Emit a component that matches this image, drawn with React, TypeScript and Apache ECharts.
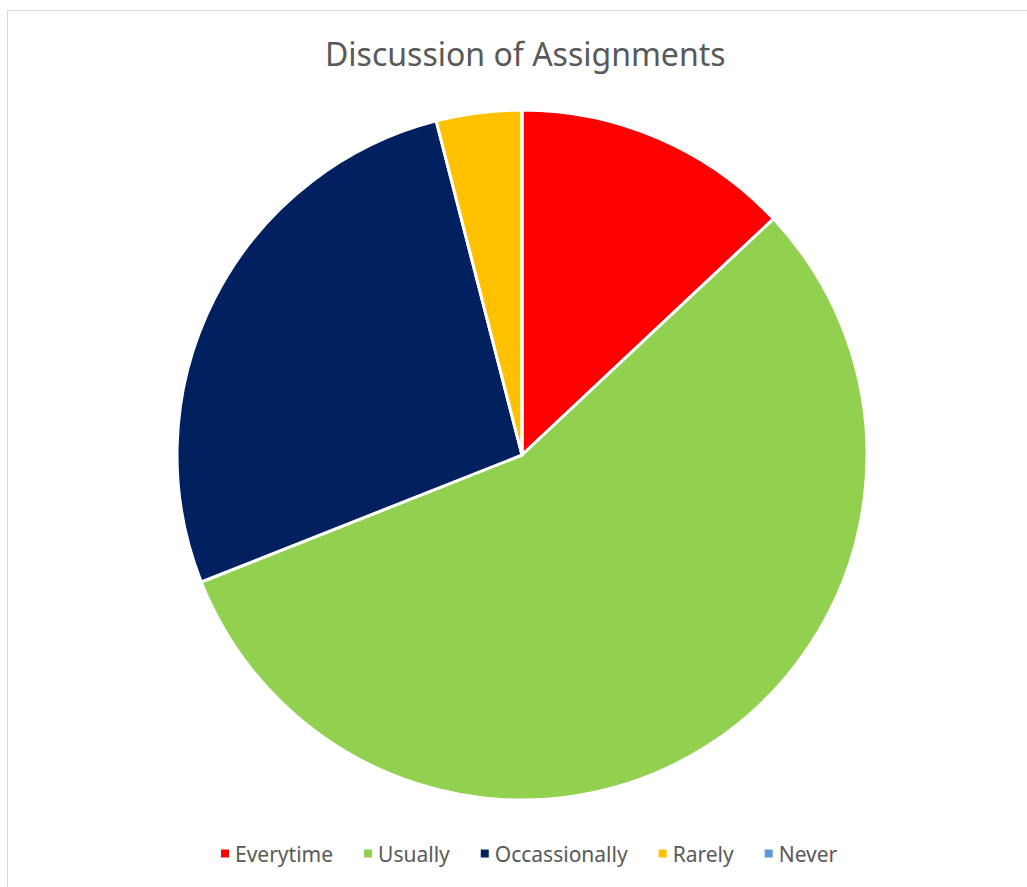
import React, { useEffect, useRef } from "react";
import * as echarts from "echarts";

const categories = ["Everytime", "Usually", "Occassionally", "Rarely", "Never"];
const values = [13, 56, 27, 4, 0];
const colors = ["#FF0000", "#92D050", "#002060", "#FFC000", "#5B9BD5"];
const titleText = "Discussion of Assignments";

export default function App() {
  const ref = useRef<HTMLDivElement>(null);
  useEffect(() => {
    if (!ref.current) return;
    const chart = echarts.init(ref.current, null, { renderer: "svg" });
    chart.setOption({
      animation: false,
      backgroundColor: "#ffffff",
      graphic: [
        {
          type: "rect",
          shape: { x: 7.5, y: 10.5, width: 1040, height: 900 },
          style: { fill: "none", stroke: "#d9d9d9", lineWidth: 1 },
          silent: true,
        },
      ],
      title: {
        text: titleText,
        left: 320,
        top: 32,
        textStyle: {
          fontFamily: "Noto Sans",
          fontSize: 32,
          fontWeight: "normal",
          color: "#595959",
        },
      },
      legend: {
        data: categories,
        left: 214,
        top: 838,
        icon: "rect",
        itemWidth: 10,
        itemHeight: 10,
        itemGap: 29,
        textStyle: {
          fontFamily: "Noto Sans",
          fontSize: 21,
          color: "#595959",
        },
      },
      series: [
        {
          type: "pie",
          center: [522, 455],
          radius: [0, 345],
          startAngle: 90,
          clockwise: true,
          label: { show: false },
          labelLine: { show: false },
          itemStyle: { borderColor: "#ffffff", borderWidth: 3 },
          emphasis: { disabled: true },
          data: categories.map((c, i) => ({
            name: c,
            value: values[i],
            itemStyle: { color: colors[i] },
          })),
        },
      ],
    });
    return () => chart.dispose();
  }, []);
  return (
    <div
      ref={ref}
      style={{ position: "fixed", left: 0, top: 0, width: 1027, height: 887 }}
    />
  );
}
